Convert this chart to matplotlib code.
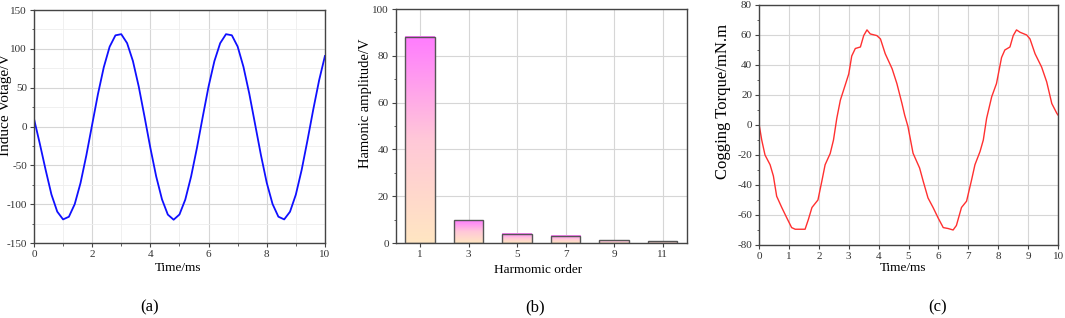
import numpy as np
import matplotlib
matplotlib.use('Agg')
import matplotlib.pyplot as plt
from matplotlib.ticker import MultipleLocator
from matplotlib.colors import LinearSegmentedColormap

plt.rcParams['font.family'] = ['Liberation Serif', 'DejaVu Serif']
plt.rcParams['axes.unicode_minus'] = False

# (a) induced voltage, every 0.2 ms
t_volt = np.arange(0, 10.01, 0.2)
volt = [10, -22, -55.7, -87.5, -109.6, -119.6, -116.2, -100.0, -72.7, -37.1,
        2.5, 41.9, 76.4, 102.7, 117.4, 118.9, 107.4, 84.4, 51.6, 12.6,
        -27.5, -64.2, -93.8, -113.4, -120.0, -113.3, -94.1, -64.4, -27.7, 12.4,
        51.4, 84.1, 107.3, 118.9, 117.5, 103.0, 76.8, 42.3, 2.9, -36.7,
        -72.4, -99.8, -116.1, -119.6, -109.7, -87.7, -55.9, -17.8, 22.1, 59.5,
        90.8]

# (b) harmonic spectrum
orders = [1, 3, 5, 7, 9, 11]
amps = [88.2, 9.7, 4.0, 3.0, 1.2, 0.8]

# (c) cogging torque
t_torque = [0.0, 0.09, 0.2, 0.37, 0.48, 0.59, 0.76, 0.93, 1.09, 1.21, 1.54, 1.65,
            1.77, 1.97, 2.1, 2.21, 2.38, 2.49, 2.6, 2.72, 2.88, 3.0, 3.1, 3.22,
            3.39, 3.5, 3.61, 3.72, 3.94, 4.06, 4.22, 4.45, 4.61, 4.78, 4.87, 4.98,
            5.15, 5.37, 5.49, 5.65, 5.82, 5.99, 6.16, 6.32, 6.49, 6.6, 6.77, 6.94,
            7.11, 7.22, 7.39, 7.5, 7.61, 7.78, 7.94, 8.11, 8.22, 8.39, 8.5, 8.61,
            8.73, 8.95, 9.06, 9.23, 9.45, 9.62, 9.79, 9.96, 10.0]
torque = [0.7, -10, -20, -26.5, -34, -47.5, -55, -62, -68.4, -69.5, -69.5, -63,
          -55, -50, -37.5, -26.5, -19, -10, 4.4, 16.6, 26.5, 34, 46, 51,
          52, 59.6, 63.4, 60.7, 59.6, 57.4, 47.5, 37.5, 27.6, 14.3, 6.6, -1,
          -18.8, -28.7, -37.5, -48.6, -55, -62, -68.4, -69, -70, -67, -55, -50.8,
          -36.4, -26.5, -17.7, -10, 4.4, 18.8, 27.6, 45, 50, 52, 59.6, 63.4,
          61.8, 60, 57.4, 47.5, 38.6, 28.7, 14.3, 7.7, 6.6]

fig = plt.figure(figsize=(10.65, 3.18), dpi=100)
ax1 = fig.add_axes([0.0319, 0.2358, 0.2732, 0.7327])
ax2 = fig.add_axes([0.3718, 0.2358, 0.2732, 0.7358])
ax3 = fig.add_axes([0.7127, 0.2296, 0.2808, 0.7547])


def style(ax):
    for s in ax.spines.values():
        s.set_color('#444444')
        s.set_linewidth(1.0)
    ax.tick_params(which='both', direction='out', labelsize=8, colors='#444444',
                   labelcolor='#333333', top=False, right=False, pad=2)
    ax.tick_params(which='major', length=3)
    ax.tick_params(which='minor', length=1.8)
    ax.grid(True, which='major', color='#d6d6d6', lw=0.8)
    ax.set_axisbelow(True)


# (a)
style(ax1)
ax1.plot(t_volt, volt, color='#1010ff', lw=1.3)
ax1.set_xlim(0, 10)
ax1.set_ylim(-150, 150)
ax1.xaxis.set_major_locator(MultipleLocator(2))
ax1.xaxis.set_minor_locator(MultipleLocator(1))
ax1.yaxis.set_major_locator(MultipleLocator(50))
ax1.yaxis.set_minor_locator(MultipleLocator(25))
ax1.grid(True, which='minor', color='#eeeeee', lw=0.6)
ax1.set_xlabel('Time/ms', fontsize=9.5)
ax1.set_ylabel('Induce Votage/V', fontsize=11)
ax1.xaxis.set_label_coords(0.494, -0.082)
ax1.yaxis.set_label_coords(-0.0756, 0.592)

# (b)
style(ax2)
cmap = LinearSegmentedColormap.from_list(
    'bar', ['#ffe6c2', '#ffc8d8', '#ff7cff'])
grad = np.linspace(0, 1, 256).reshape(-1, 1)
w = 1.22
for x, h in zip(orders, amps):
    ax2.imshow(grad, cmap=cmap, origin='lower', aspect='auto',
               extent=(x - w / 2, x + w / 2, 0, h), zorder=2)
ax2.bar(orders, amps, width=w, facecolor='none', edgecolor='#555555',
        lw=1.0, zorder=3)
ax2.set_xlim(0, 12)
ax2.set_ylim(0, 100)
ax2.set_xticks(orders)
ax2.yaxis.set_major_locator(MultipleLocator(20))
ax2.yaxis.set_minor_locator(MultipleLocator(10))
ax2.set_xlabel('Harmomic order', fontsize=9.5)
ax2.set_ylabel('Hamonic amplitude/V', fontsize=10.5)
ax2.xaxis.set_label_coords(0.488, -0.09)
ax2.yaxis.set_label_coords(-0.0825, 0.598)

# (c)
style(ax3)
ax3.plot(t_torque, torque, color='#ff3030', lw=1.0)
ax3.set_xlim(0, 10)
ax3.set_ylim(-80, 80)
ax3.xaxis.set_major_locator(MultipleLocator(1))
ax3.yaxis.set_major_locator(MultipleLocator(20))
ax3.yaxis.set_minor_locator(MultipleLocator(10))
ax3.set_xlabel('Time/ms', fontsize=9.5)
ax3.set_ylabel('Cogging Torque/mN.m', fontsize=12)
ax3.xaxis.set_label_coords(0.482, -0.071)
ax3.yaxis.set_label_coords(-0.094, 0.6)

for x, lab in [(150, '(a)'), (535, '(b)'), (938, '(c)')]:
    fig.text(x / 1065, 1 - 307 / 318, lab, ha='center', va='center', fontsize=12)

fig.savefig('out.png', dpi=100)
